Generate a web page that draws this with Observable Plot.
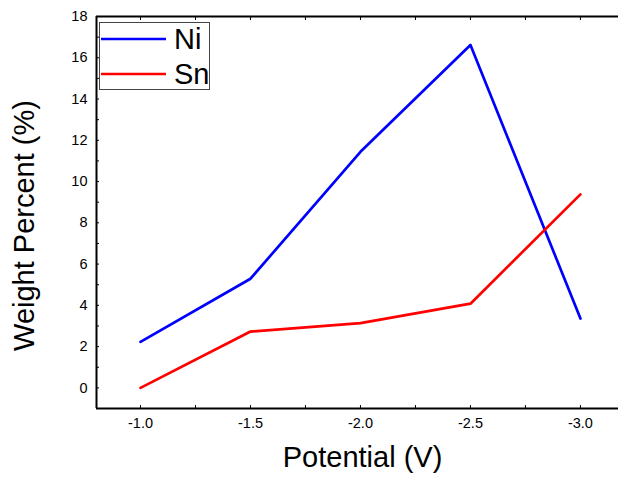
<!DOCTYPE html>
<html>
<head>
<meta charset="utf-8">
<script src="https://cdn.jsdelivr.net/npm/d3@7"></script>
<script src="https://cdn.jsdelivr.net/npm/@observablehq/plot@0.6"></script>
<style>
  html, body { margin: 0; padding: 0; background: #fff; }
</style>
</head>
<body>
<div id="chart"></div>
<script>
const potentials = [-1.0, -1.5, -2.0, -2.5, -3.0];
const niValues = [2.23, 5.29, 11.44, 16.62, 3.36];
const snValues = [0.0, 2.73, 3.14, 4.08, 9.38];
const seriesNames = ["Ni", "Sn"];
const xTickLabels = [-1.0, -1.5, -2.0, -2.5, -3.0];
const xMinorTicks = [-1.0, -1.25, -1.5, -1.75, -2.0, -2.25, -2.5, -2.75, -3.0];
const yTickLabels = [0, 2, 4, 6, 8, 10, 12, 14, 16, 18];
const yMinorTicks = d3.range(0, 19, 1);

const ni = potentials.map((p, i) => ({x: p, y: niValues[i], s: "Ni"}));
const sn = potentials.map((p, i) => ({x: p, y: snValues[i], s: "Sn"}));

const font = "'Liberation Sans', Arial, sans-serif";

const plot = Plot.plot({
  width: 618,
  height: 480,
  marginLeft: 96,
  marginRight: 0,
  marginTop: 16,
  marginBottom: 72,
  style: {fontFamily: font, background: "#fff", color: "#000"},
  x: {domain: [-0.8, -3.173], label: null},
  y: {domain: [-1, 18], label: null},
  marks: [
    // axis lines
    Plot.ruleX([-0.8], {stroke: "#000", strokeWidth: 2}),
    Plot.ruleY([-1], {stroke: "#000", strokeWidth: 2}),
    Plot.ruleY([18], {stroke: "#000", strokeWidth: 2}),
    // inward ticks
    Plot.axisY({ticks: yMinorTicks, tickSize: -3, tickFormat: () => "", label: null}),
    Plot.axisY({ticks: yTickLabels, tickSize: 0, tickPadding: 9, fontSize: 14.5, tickFormat: d => String(d), label: null}),
    Plot.axisX({anchor: "bottom", ticks: xMinorTicks, tickSize: -3, tickFormat: () => "", label: null}),
    Plot.axisX({anchor: "bottom", ticks: xTickLabels, tickSize: 0, tickPadding: 9, fontSize: 14.5, tickFormat: d => d.toFixed(1), label: null}),
    Plot.axisX({anchor: "top", ticks: xMinorTicks, tickSize: -3, tickFormat: () => "", label: null}),
    // data
    Plot.line(ni, {x: "x", y: "y", stroke: "#0000ff", strokeWidth: 2.7}),
    Plot.line(sn, {x: "x", y: "y", stroke: "#ff0000", strokeWidth: 2.7}),
    // axis titles
    Plot.text(["Potential (V)"], {frameAnchor: "bottom", textAnchor: "middle", lineAnchor: "middle", dx: 5, dy: 49, fontSize: 29, fill: "#000"}),
    Plot.text(["Weight Percent (%)"], {frameAnchor: "left", textAnchor: "middle", lineAnchor: "middle", rotate: -90, dx: -72, dy: 13, fontSize: 29, fill: "#000"})
  ]
});

document.getElementById("chart").appendChild(plot);

// legend inside the plot frame
const svg = d3.select(plot);
const lg = svg.append("g").attr("font-family", font).attr("text-anchor", "start");
lg.append("rect").attr("x", 99.5).attr("y", 22.5).attr("width", 110).attr("height", 67)
  .attr("fill", "#fff").attr("stroke", "#444").attr("stroke-width", 1);
const legendColors = ["#0000ff", "#ff0000"];
seriesNames.forEach((name, i) => {
  const cy = 39 + i * 35;
  lg.append("line").attr("x1", 101).attr("x2", 166).attr("y1", cy).attr("y2", cy)
    .attr("stroke", legendColors[i]).attr("stroke-width", 2.5);
  lg.append("text").attr("x", 174).attr("y", cy + 10).attr("font-size", 29)
    .attr("text-anchor", "start").attr("fill", "#000").text(name);
});
</script>
</body>
</html>
